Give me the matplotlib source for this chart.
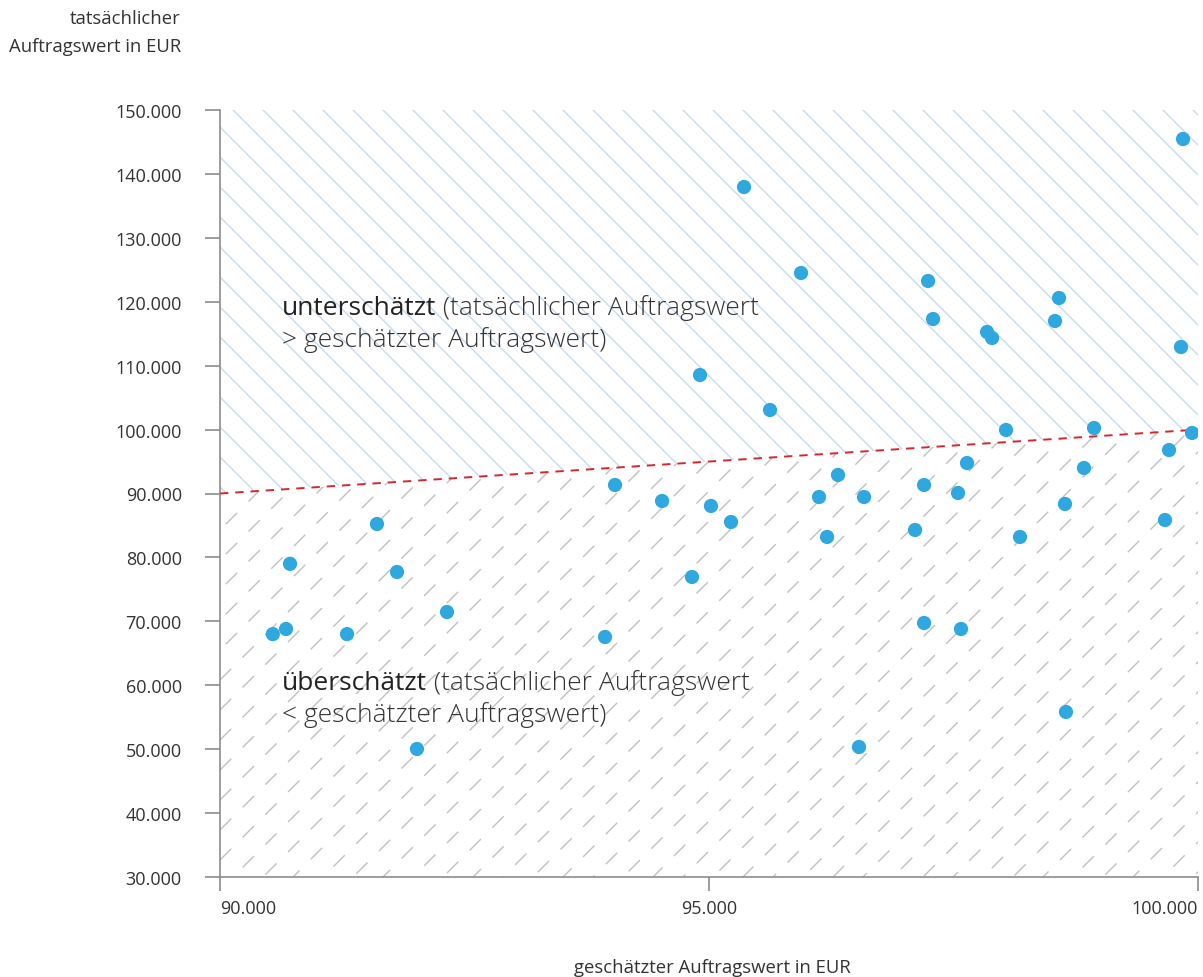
import numpy as np
import matplotlib
matplotlib.use('Agg')
import matplotlib.pyplot as plt
from matplotlib.patches import Polygon
from matplotlib.lines import Line2D
import matplotlib.transforms as mtransforms

# Data: estimated vs. actual order value (EUR)
geschaetzt = [90540, 90675, 90716, 91299, 91605, 91810, 92014, 92321, 93937, 94039,
              94520, 94826, 94908, 95020, 95225, 95358, 95624, 95941, 96125, 96207,
              96319, 96534, 96585, 97107, 97199, 97199, 97240, 97291, 97546, 97577,
              97638, 97843, 97894, 98037, 98180, 98538, 98579, 98640, 98650, 98834,
              98937, 99663, 99704, 99826, 99847, 99939]
tatsaechlich = [68000, 68800, 79000, 68000, 85230, 77720, 50030, 71460, 67550, 91330,
                88830, 76940, 108540, 88050, 85540, 137950, 103065, 124500, 89450, 83200,
                92900, 50340, 89450, 84290, 91330, 69740, 123250, 117300, 90080, 68800,
                94770, 115270, 114330, 99940, 83200, 116990, 120590, 88360, 55820, 93990,
                100250, 85850, 96800, 112920, 145460, 99470]

x_ticks = [90000, 95000, 100000]
y_ticks = list(range(30000, 150001, 10000))
x_lim = (90000, 100000)
y_lim = (30000, 150000)


def fmt(v):
    return '{:,}'.format(v).replace(',', '.')


plt.rcParams['font.family'] = ['Open Sans', 'DejaVu Sans']
plt.rcParams['lines.scale_dashes'] = False

W, H = 1203, 978
fig = plt.figure(figsize=(W / 100, H / 100), dpi=100)
ax_l, ax_r, ax_t, ax_b = 220, 1198, 111, 878
ax = fig.add_axes([ax_l / W, 1 - ax_b / H, (ax_r - ax_l) / W, (ax_b - ax_t) / H])
ax.set_xlim(*x_lim)
ax.set_ylim(*y_lim)
aw, ah = ax_r - ax_l, ax_b - ax_t

# regions above / below the diagonal
upper = Polygon([(x_lim[0], x_lim[0]), (x_lim[1], x_lim[1]), (x_lim[1], y_lim[1]),
                 (x_lim[0], y_lim[1])], closed=True, facecolor='none', edgecolor='none',
                transform=ax.transData)
lower = Polygon([(x_lim[0], y_lim[0]), (x_lim[1], y_lim[0]), (x_lim[1], x_lim[1]),
                 (x_lim[0], x_lim[0])], closed=True, facecolor='none', edgecolor='none',
                transform=ax.transData)
ax.add_patch(upper)
ax.add_patch(lower)

# hatching drawn in axes pixel space (45 degrees, 30 px apart)
pix = mtransforms.Affine2D().scale(1 / aw, 1 / ah) + ax.transAxes
step = 30
for x0 in np.arange(-ah - step, aw + step, step):
    l = Line2D([x0, x0 + ah], [ah, 0], color='#c6dbf0', lw=1.0, transform=pix)
    ax.add_line(l)
    l.set_clip_path(upper)
col = 22.7  # dash period along x
for x0 in np.arange(-ah - step, aw + step, step):
    xs = np.floor(x0 / col) * col
    l = Line2D([xs, xs + ah + 40], [xs - x0, xs - x0 + ah + 40], color='#c0c0c0', lw=1.0,
               linestyle=(0, (11.5, 11.6)), transform=pix)
    ax.add_line(l)
    l.set_clip_path(lower)

# diagonal y = x
ax.plot(x_lim, x_lim, color='#d7262e', lw=1.4, linestyle=(0, (6, 5)), zorder=3)

ax.scatter(geschaetzt, tatsaechlich, s=105, color='#2ea8de', edgecolors='none', zorder=4)

for s in ['top', 'right']:
    ax.spines[s].set_visible(False)
for s in ['left', 'bottom']:
    ax.spines[s].set_color('#8c8c8c')
    ax.spines[s].set_linewidth(1.2)

ax.set_xticks(x_ticks)
ax.set_yticks(y_ticks)
ax.set_xticklabels([fmt(v) for v in x_ticks])
ax.set_yticklabels([fmt(v) for v in y_ticks])
ax.tick_params(axis='y', length=10.5, width=1.2, color='#8c8c8c', labelsize=13,
               labelcolor='#333333', pad=17)
ax.tick_params(axis='x', length=10, width=1.2, color='#8c8c8c', labelsize=13,
               labelcolor='#333333', pad=6)
xl = ax.get_xticklabels()
xl[0].set_ha('left')
xl[-1].set_ha('right')

fig.text(181 / W, 1 - 10 / H, 'tatsächlicher\nAuftragswert in EUR', ha='right', va='top',
         fontsize=13.3, color='#333333', linespacing=1.75)
fig.text(712 / W, 1 - 968 / H, 'geschätzter Auftragswert in EUR', ha='center',
         va='center', fontsize=13.3, color='#333333')


# region annotations
def region_label(y_px, bold, rest, second):
    t = fig.text(282 / W, 1 - y_px / H, bold, ha='left', va='center', fontsize=19,
                 color='#222222')
    ax.annotate(rest, xy=(1, 0), xycoords=t, ha='left', va='bottom', fontsize=19,
                color='#333333', fontweight='light')
    fig.text(282 / W, 1 - (y_px + 31) / H, second, ha='left', va='center', fontsize=19,
             color='#333333', fontweight='light')


region_label(309, 'unterschätzt', ' (tatsächlicher Auftragswert', '> geschätzter Auftragswert)')
region_label(684, 'überschätzt', ' (tatsächlicher Auftragswert', '< geschätzter Auftragswert)')

fig.savefig('out.png', dpi=100)
